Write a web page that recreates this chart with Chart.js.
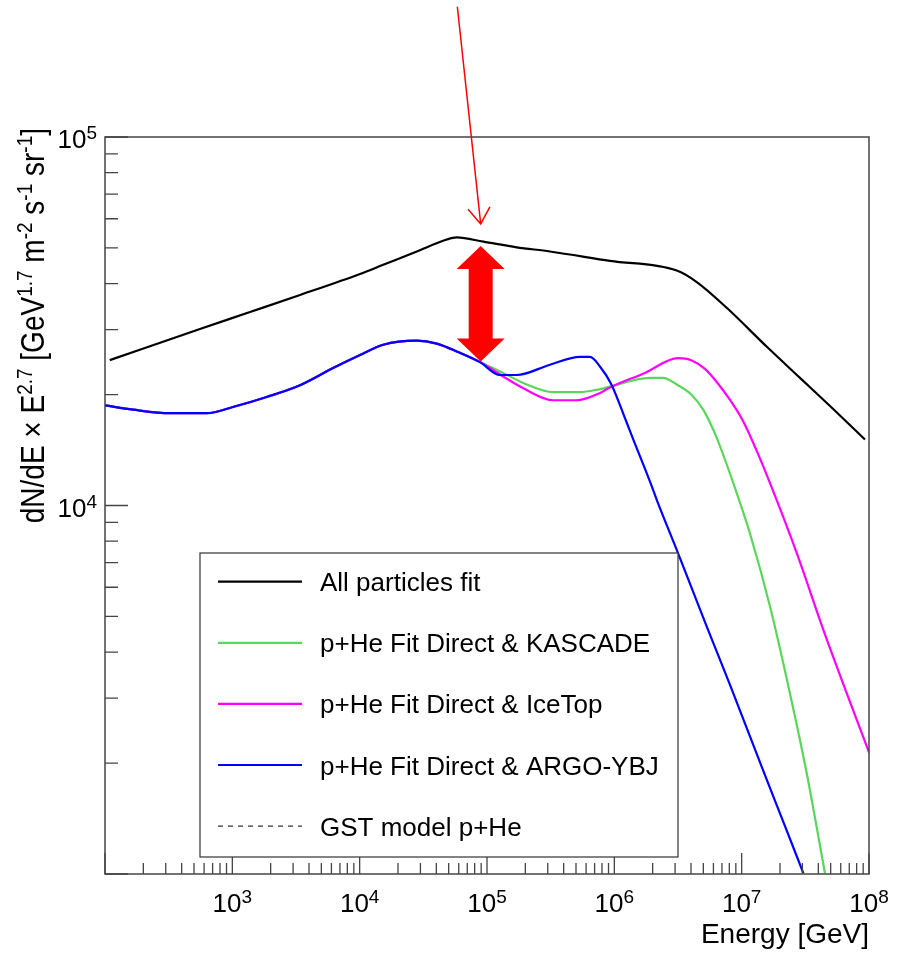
<!DOCTYPE html>
<html>
<head>
<meta charset="utf-8">
<script src="https://cdn.jsdelivr.net/npm/chart.js@4.4.1/dist/chart.umd.min.js"></script>
<style>
  html, body { margin: 0; padding: 0; background: #fff; }
  #wrap { width: 899px; height: 953px; position: relative; }
</style>
</head>
<body>
<div id="wrap"><canvas id="chart"></canvas></div>
<script>
// axis decades (log10) and which of them carry a label
const xDecades = [2, 3, 4, 5, 6, 7, 8]
const yDecades = [3, 4, 5]
const xLabelExps = [3, 4, 5, 6, 7, 8]
const yLabelExps = [4, 5]

// all particles fit (GeV, flux x E^2.7)
const energyAll = [109, 557, 1376, 3400, 10060, 15300, 28100, 48300, 57900, 93600, 171000, 312000, 925000, 3.09e6, 4.44e6, 7.63e6, 1.57e7, 2.87e7, 5.21e7, 9.3e7]
const fluxAll   = [24800, 30140, 33500, 37260, 42490, 45000, 48900, 52700, 53400, 52000, 50200, 48900, 46100, 43400, 40400, 34400, 27000, 22200, 18300, 15100]

// p+He direct fit, common part below ~100 TeV
const energyLow = [100, 166, 324, 629, 1010, 1860, 3400, 6180, 10070, 15300, 28100, 40300, 59200, 88100]
const fluxLow   = [18700, 18200, 17800, 17800, 18500, 19700, 21200, 23600, 25600, 27300, 28000, 27500, 26100, 24500]

// high energy tails
const energyKascade = [134000, 193000, 332000, 538000, 773000, 1.91e6, 2.41e6, 3.16e6, 4.05e6, 5.0e6, 6.37e6, 8.6e6, 1.16e7, 1.67e7, 2.39e7, 3.24e7, 4.51e7]
const fluxKascade   = [22900, 21500, 20300, 20300, 20700, 22200, 22200, 21200, 19950, 18170, 15260, 11500, 8410, 5320, 3100, 1880, 1005]

const energyIceTop = [134000, 193000, 332000, 506000, 773000, 898000, 1.74e6, 3.16e6, 4.05e6, 5.15e6, 6.37e6, 8.1e6, 1.025e7, 1.313e7, 1.67e7, 2.71e7, 4.38e7, 6.68e7, 1.006e8]
const fluxIceTop   = [22400, 20800, 19300, 19300, 20200, 20800, 22900, 25100, 24760, 23480, 21640, 19340, 16960, 14070, 11500, 7425, 4597, 3096, 2128]

const energyArgo = [126000, 171000, 312000, 538000, 645000, 773000, 942000, 1.25e6, 1.41e6, 1.91e6, 2.153e6, 3.18e6, 5.32e6, 8.1e6, 1.479e7, 2.124e7, 3.05e7]
const fluxArgo   = [22600, 22600, 24100, 25300, 25300, 23800, 21400, 16800, 15100, 11590, 10360, 7390, 4690, 3260, 1905, 1385, 1006]

const legendItems = [
  { label: 'All particles fit',            color: '#000000', dash: [] },
  { label: 'p+He Fit Direct & KASCADE',    color: '#5ad75a', dash: [] },
  { label: 'p+He Fit Direct & IceTop',     color: '#ff00ff', dash: [] },
  { label: 'p+He Fit Direct & ARGO-YBJ',   color: '#0000ff', dash: [] },
  { label: 'GST model p+He',               color: '#000000', dash: [5, 5] },
]

// annotation arrows, in data units (energy, flux)
const arrowEnergy    = 89200
const thinArrowStart = [58500, 225700]
const thinArrowTip   = [89200, 58100]
const thickArrowFlux = [50600, 24600]

const FONT = '"Liberation Sans", Arial, Helvetica, sans-serif'

const toPoints = (xs, ys) => xs.map((x, i) => ({ x, y: ys[i] }))

function decadeTicks(exps) {
  const out = []
  exps.forEach((e, i) => {
    const base = Math.pow(10, e)
    const top = i === exps.length - 1 ? 1 : 9
    for (let m = 1; m <= top; m++) out.push({ value: m * base })
  })
  return out
}

const isDecade = v => Math.abs(Math.log10(v) - Math.round(Math.log10(v))) < 1e-9

function richWidth(ctx, parts, size, supSize) {
  let w = 0
  for (const [t, sup] of parts) {
    ctx.font = `${sup ? supSize : size}px ${FONT}`
    w += ctx.measureText(t).width
  }
  return w
}

function drawRich(ctx, parts, x, y, size, supSize, raise, align) {
  const w = richWidth(ctx, parts, size, supSize)
  let cx = align === 'right' ? x - w : align === 'center' ? x - w / 2 : x
  ctx.textAlign = 'left'
  ctx.textBaseline = 'alphabetic'
  for (const [t, sup] of parts) {
    ctx.font = `${sup ? supSize : size}px ${FONT}`
    ctx.fillText(t, cx, sup ? y - raise : y)
    cx += ctx.measureText(t).width
  }
}

const rootFrame = {
  id: 'rootFrame',
  afterDraw(chart) {
    const { ctx, chartArea: a, scales: { x, y } } = chart
    ctx.save()

    // frame
    ctx.strokeStyle = '#444'
    ctx.lineWidth = 1.5
    ctx.strokeRect(a.left, a.top, a.right - a.left, a.bottom - a.top)

    // inside ticks
    ctx.lineWidth = 1.3
    ctx.beginPath()
    x.ticks.forEach(t => {
      const px = x.getPixelForValue(t.value)
      const len = isDecade(t.value) ? 21 : 11
      ctx.moveTo(px, a.bottom)
      ctx.lineTo(px, a.bottom - len)
    })
    y.ticks.forEach(t => {
      const py = y.getPixelForValue(t.value)
      const len = isDecade(t.value) ? 23 : 13
      ctx.moveTo(a.left, py)
      ctx.lineTo(a.left + len, py)
    })
    ctx.stroke()

    // tick labels
    ctx.fillStyle = '#000'
    xLabelExps.forEach(e => {
      const px = x.getPixelForValue(Math.pow(10, e))
      drawRich(ctx, [['10', 0], [String(e), 1]], px, a.bottom + 38, 26, 19, 9, 'center')
    })
    yLabelExps.forEach(e => {
      const py = y.getPixelForValue(Math.pow(10, e))
      drawRich(ctx, [['10', 0], [String(e), 1]], a.left - 8, py + 11, 26, 19, 9, 'right')
    })

    // axis titles
    ctx.font = `28px ${FONT}`
    ctx.textAlign = 'right'
    ctx.textBaseline = 'alphabetic'
    ctx.fillText('Energy [GeV]', a.right, a.bottom + 69)

    ctx.save()
    ctx.translate(44, 128)
    ctx.rotate(-Math.PI / 2)
    ctx.scale(1, 1.2)
    drawRich(ctx, [
      ['dN/dE \u00d7 E', 0], ['2.7', 1], [' [GeV', 0], ['1.7', 1], [' m', 0], ['-2', 1],
      [' s', 0], ['-1', 1], [' sr', 0], ['-1', 1], [']', 0],
    ], 0, 0, 28, 19, 10, 'right')
    ctx.restore()

    // legend
    const box = { left: 200, top: 553, right: 678, bottom: 857 }
    ctx.fillStyle = '#fff'
    ctx.fillRect(box.left, box.top, box.right - box.left, box.bottom - box.top)
    ctx.strokeStyle = '#333'
    ctx.lineWidth = 1.2
    ctx.strokeRect(box.left, box.top, box.right - box.left, box.bottom - box.top)
    legendItems.forEach((it, i) => {
      const ry = 581.7 + i * 61.1
      ctx.strokeStyle = it.color
      ctx.lineWidth = it.dash.length ? 1 : 2.2
      ctx.setLineDash(it.dash)
      ctx.beginPath()
      ctx.moveTo(218, ry)
      ctx.lineTo(302, ry)
      ctx.stroke()
      ctx.setLineDash([])
      ctx.fillStyle = '#000'
      ctx.font = `26px ${FONT}`
      ctx.textAlign = 'left'
      ctx.fillText(it.label, 320, ry + 9.5)
    })

    // thin red arrow with open head
    const sx = x.getPixelForValue(thinArrowStart[0]), sy = y.getPixelForValue(thinArrowStart[1])
    const tx = x.getPixelForValue(thinArrowTip[0]),   ty = y.getPixelForValue(thinArrowTip[1])
    const dl = Math.hypot(tx - sx, ty - sy)
    const ux = (tx - sx) / dl, uy = (ty - sy) / dl
    ctx.strokeStyle = '#ff0000'
    ctx.lineWidth = 1.5
    ctx.beginPath()
    ctx.moveTo(sx, sy)
    ctx.lineTo(tx, ty)
    ctx.moveTo(tx - ux * 16 - uy * 11, ty - uy * 16 + ux * 11)
    ctx.lineTo(tx, ty)
    ctx.lineTo(tx - ux * 16 + uy * 11, ty - uy * 16 - ux * 11)
    ctx.stroke()

    // thick double-headed arrow
    const cx = x.getPixelForValue(arrowEnergy)
    const top = y.getPixelForValue(thickArrowFlux[0])
    const bot = y.getPixelForValue(thickArrowFlux[1])
    const hl = 23, hw = 24, sw = 12
    ctx.fillStyle = '#ff0000'
    ctx.beginPath()
    ctx.moveTo(cx, top)
    ctx.lineTo(cx + hw, top + hl)
    ctx.lineTo(cx + sw, top + hl)
    ctx.lineTo(cx + sw, bot - hl)
    ctx.lineTo(cx + hw, bot - hl)
    ctx.lineTo(cx, bot)
    ctx.lineTo(cx - hw, bot - hl)
    ctx.lineTo(cx - sw, bot - hl)
    ctx.lineTo(cx - sw, top + hl)
    ctx.lineTo(cx - hw, top + hl)
    ctx.closePath()
    ctx.fill()

    ctx.restore()
  },
}

const line = (label, data, color, order) => ({
  label, data, order,
  borderColor: color,
  borderWidth: 2.2,
  pointRadius: 0,
  showLine: true,
  fill: false,
  cubicInterpolationMode: 'monotone',
})

new Chart(document.getElementById('chart'), {
  type: 'scatter',
  data: {
    datasets: [
      line('p+He Fit Direct & ARGO-YBJ', toPoints(energyLow.concat(energyArgo), fluxLow.concat(fluxArgo)), '#0000ff', 0),
      line('p+He Fit Direct & IceTop', toPoints(energyLow.concat(energyIceTop), fluxLow.concat(fluxIceTop)), '#ff00ff', 1),
      line('p+He Fit Direct & KASCADE', toPoints(energyLow.concat(energyKascade), fluxLow.concat(fluxKascade)), '#5ad75a', 2),
      line('All particles fit', toPoints(energyAll, fluxAll), '#000000', 3),
    ],
  },
  options: {
    responsive: true, maintainAspectRatio: false,
    animation: false,
    layout: { padding: { left: 105, right: 30, top: 137, bottom: 79 } },
    plugins: { legend: { display: false }, tooltip: { enabled: false } },
    scales: {
      x: {
        type: 'logarithmic', min: 100, max: 1e8, display: false,
        ticks: { autoSkip: false },
        afterBuildTicks: s => { s.ticks = decadeTicks(xDecades) },
      },
      y: {
        type: 'logarithmic', min: 1000, max: 1e5, display: false,
        ticks: { autoSkip: false },
        afterBuildTicks: s => { s.ticks = decadeTicks(yDecades) },
      },
    },
  },
  plugins: [rootFrame],
})
</script>
</body>
</html>
